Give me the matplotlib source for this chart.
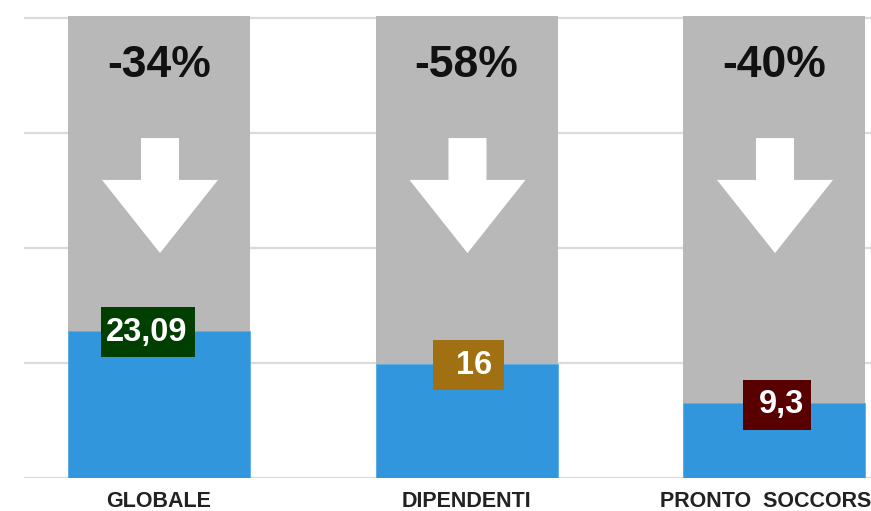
import matplotlib
matplotlib.use("Agg")
import matplotlib.pyplot as plt
from matplotlib.patches import Rectangle, Polygon

# ---- data ----
categories = ["GLOBALE", "DIPENDENTI", "PRONTO  SOCCORSO"]
total_values = [100.5, 100.5, 100.5]          # gray background bars (normalised)
current_values = [32.0, 24.8, 16.3]           # blue bars (normalised height)
value_labels = ["23,09", "16", "9,3"]
change_labels = ["-34%", "-58%", "-40%"]

# ---- style ----
gray = "#b8b8b8"
blue = "#3296dd"
box_colors = ["#003f00", "#a07012", "#580000"]
grid_color = "#dadada"
font = "Liberation Sans"

W, H = 871, 511
fig = plt.figure(figsize=(W / 100, H / 100), dpi=100)
ax = fig.add_axes([24 / W, (H - 478) / H, 1 - 24 / W, 478 / H])

px_x = 307.5          # pixels per category unit
px_y = 4.6            # pixels per y unit
x = list(range(len(categories)))
ax.set_xlim(-135 / px_x, (W - 159) / px_x)
ax.set_ylim(0, 478 / px_y)

for v in [0, 25, 50, 75, 100]:
    ax.axhline(v, color=grid_color, lw=1.6, zorder=0)

bw = 182 / px_x
ax.bar(x, total_values, width=bw, color=gray, zorder=1)
ax.bar(x, current_values, width=bw, color=blue, zorder=2, edgecolor="#5aaee6", linewidth=0.6)

# arrows
sh = 19 / px_x
hh = 58 / px_x
top, base, tip = 73.9, 64.8, 48.9
for xi in x:
    c = xi + 1 / px_x
    pts = [(c - sh, top), (c + sh, top), (c + sh, base), (c + hh, base),
           (c, tip), (c - hh, base), (c - sh, base)]
    ax.add_patch(Polygon(pts, closed=True, facecolor="white", edgecolor="none", zorder=3))

# change labels
for xi, lab in zip(x, change_labels):
    ax.text(xi, 89.6, lab, ha="center", va="center", fontsize=32, fontweight="bold",
            family=font, color="#111111", zorder=4)

# value boxes
box_w = [94, 71, 68]
box_dx = [-11, 1.5, 3]
txt_dx = [-12, 8, 7]
box_h = 50 / px_y
for xi, v, lab, col, w, bdx, tdx in zip(x, current_values, value_labels, box_colors, box_w, box_dx, txt_dx):
    yc = v - 1.5 / px_y
    cx = xi + bdx / px_x
    ax.add_patch(Rectangle((cx - w / 2 / px_x, yc - box_h / 2), w / px_x, box_h,
                           facecolor=col, edgecolor="none", zorder=5))
    ax.text(xi + tdx / px_x, yc, lab, ha="center", va="center", fontsize=23.5,
            fontweight="bold", family=font, color="white", zorder=6)

ax.set_xticks(x)
ax.set_xticklabels(categories, fontsize=15.5, fontweight="bold", family=font, color="#222222")
ax.tick_params(axis="x", length=0, pad=9)
ax.set_yticks([])
for s in ax.spines.values():
    s.set_visible(False)

fig.savefig("out.png", dpi=100)
